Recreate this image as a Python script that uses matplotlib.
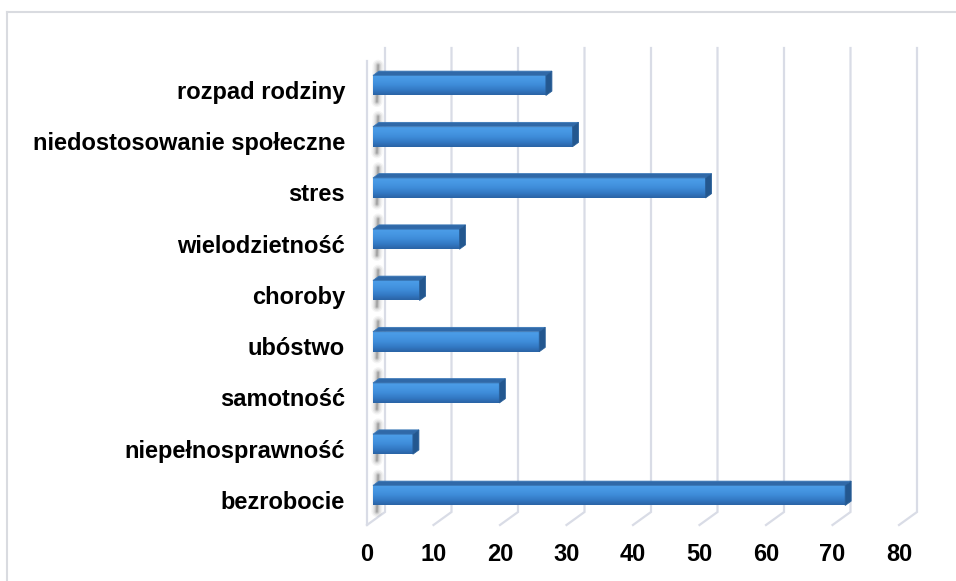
import matplotlib
matplotlib.use('Agg')
import matplotlib.pyplot as plt
import numpy as np
from matplotlib.patches import Polygon
from matplotlib.lines import Line2D
from matplotlib.colors import LinearSegmentedColormap

# ---------------- data ----------------
categories = ['bezrobocie', 'niepełnosprawność', 'samotność', 'ubóstwo',
              'choroby', 'wielodzietność', 'stres',
              'niedostosowanie społeczne', 'rozpad rodziny']
values = [71, 6, 19, 25, 7, 13, 50, 30, 26]
x_ticks = [0, 10, 20, 30, 40, 50, 60, 70, 80]

# ---------------- layout (pixels) ----------------
W, H = 956, 581
PX_LEFT, PX_RIGHT, PX_TOP, PX_BOTTOM = 367, 917, 48, 525
PX_PER_UNIT_X = 6.65
PX_PER_CAT = 51.25
Y0_PX = 499.8
DEPTH_X_PX, DEPTH_Y_PX = 18, 13

GRID = '#d9dce6'
FONT = 'Liberation Sans'

fig = plt.figure(figsize=(W / 100, H / 100), dpi=100)
fig.patch.set_facecolor('white')
ax = fig.add_axes([PX_LEFT / W, 1 - PX_BOTTOM / H,
                   (PX_RIGHT - PX_LEFT) / W, (PX_BOTTOM - PX_TOP) / H])
ax.set_autoscale_on(False)
xmax = (PX_RIGHT - PX_LEFT) / PX_PER_UNIT_X
ylo = (Y0_PX - PX_BOTTOM) / PX_PER_CAT
yhi = (Y0_PX - PX_TOP) / PX_PER_CAT
ax.set_xlim(0, xmax)
ax.set_ylim(ylo, yhi)

DX = DEPTH_X_PX / PX_PER_UNIT_X
DY = DEPTH_Y_PX / PX_PER_CAT

# back-wall gridlines with slanted floor segments
for t in x_ticks:
    ax.plot([t, t + DX, t + DX], [ylo, ylo + DY, yhi], color=GRID, lw=1.6,
            solid_joinstyle='miter', clip_on=False, zorder=1)
# left side wall front edge
ax.plot([0, 0], [ylo, yhi - DY], color=GRID, lw=1.6, clip_on=False, zorder=1)

# bars
y = np.arange(len(categories))
h = 10 / PX_PER_CAT
left = DX / 3
yc = y + DY / 3

# soft shadows on the side wall
for yi in yc:
    for lw, a in [(8, 0.05), (6, 0.07), (4, 0.10), (2.5, 0.14), (1.2, 0.18)]:
        ax.plot([DX * 0.55, DX * 0.62], [yi - h - 0.12, yi + h + 0.2],
                color='#303030', lw=lw, alpha=a, solid_capstyle='round',
                clip_on=False, zorder=2)

bars = ax.barh(yc, values, left=left, height=2 * h, color='#3a86d4',
               edgecolor='none', zorder=3)
cmap = LinearSegmentedColormap.from_list(
    'bar', ['#2a63a5', '#3379c4', '#3e8bd8', '#4697e3', '#4c9de8'])
grad = np.linspace(0, 1, 64).reshape(-1, 1)
for b, v, yi in zip(bars, values, yc):
    im = ax.imshow(grad, extent=[left, left + v, yi - h, yi + h],
                   origin='lower', cmap=cmap, aspect='auto', zorder=3.1,
                   interpolation='bicubic')
    im.set_clip_path(b)
    # top face
    top = Polygon([(left, yi + h), (left + v, yi + h),
                   (left + v + DX / 3, yi + h + DY / 3),
                   (left + DX / 3, yi + h + DY / 3)],
                  closed=True, facecolor='#3069a8', edgecolor='#3a78b8',
                  lw=0.6, zorder=3.2)
    ax.add_patch(top)
    # side face
    side = Polygon([(left + v, yi - h), (left + v, yi + h),
                    (left + v + DX / 3, yi + h + DY / 3),
                    (left + v + DX / 3, yi - h + DY / 3)],
                   closed=True, facecolor='#23578f', edgecolor='#2a609a',
                   lw=0.6, zorder=3.2)
    ax.add_patch(side)

ax.set_aspect('auto')
ax.set_xlim(0, xmax)
ax.set_ylim(ylo, yhi)

for s in ax.spines.values():
    s.set_visible(False)
ax.set_xticks(x_ticks)
ax.set_xticklabels([str(t) for t in x_ticks], fontsize=17, fontweight='bold',
                   family=FONT, color='black')
ax.set_yticks(y)
ax.set_yticklabels(categories, fontsize=17, fontweight='bold', family=FONT,
                   color='black')
ax.tick_params(axis='both', length=0)
ax.tick_params(axis='y', pad=15.8)
ax.tick_params(axis='x', pad=13)
ax.patch.set_alpha(0)

# outer chart border
BORDER = '#d9dbe0'
fig.add_artist(Line2D([7 / W, 7 / W], [0, 1 - 12 / H], color=BORDER, lw=1.5,
                      transform=fig.transFigure))
fig.add_artist(Line2D([7 / W, 1], [1 - 12 / H, 1 - 12 / H], color=BORDER,
                      lw=1.5, transform=fig.transFigure))

fig.savefig('out.png', dpi=100)
